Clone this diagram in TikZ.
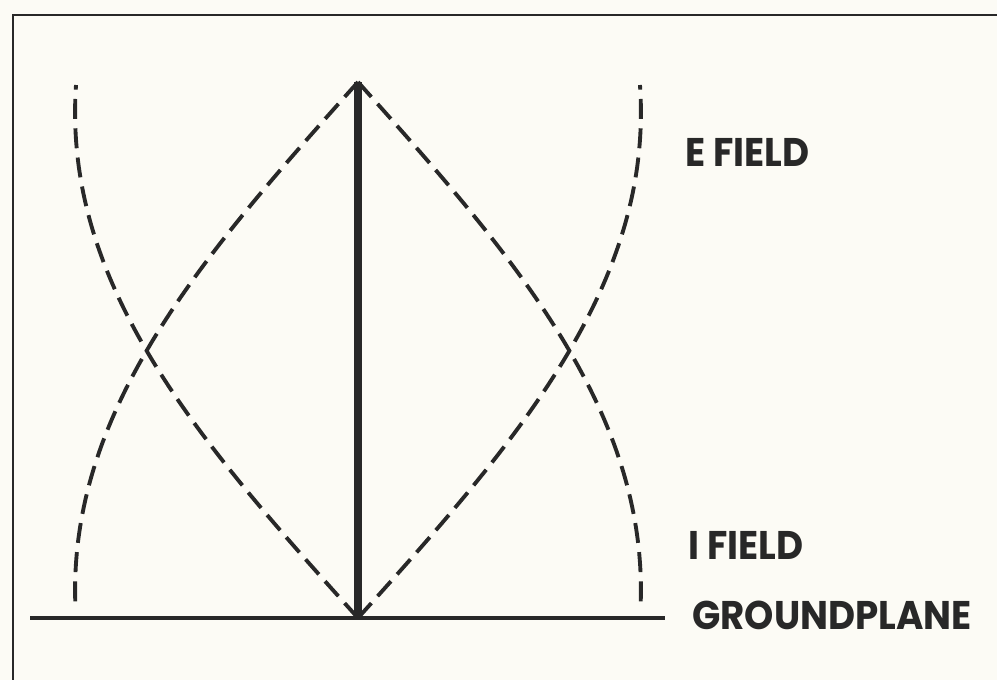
\documentclass[tikz,border=0pt]{standalone}
\usepackage{fontspec}
\newfontfamily\labelfont{Poppins}[FakeStretch=0.93]
\usetikzlibrary{positioning}
\definecolor{paper}{RGB}{252,251,245}
\definecolor{ink}{RGB}{40,40,40}

\begin{document}
\begin{tikzpicture}[x=0.75pt,y=-0.75pt,
  field/.style={ink,line width=2.9pt,dash pattern=on 15pt off 7pt},
  fieldlabel/.style={anchor=base west,inner sep=0pt,text=ink,
    font=\labelfont\bfseries\fontsize{30}{30}\selectfont}]
  \fill[paper] (0,0) rectangle (997,680);
  \useasboundingbox (0,0) rectangle (997,680);

  % frame, open to the right and bottom
  \draw[ink,line width=2.2pt] (997,15) -- (13,15) -- (13,680);

  \coordinate (top) at (358,82);
  \coordinate (base) at (358,618);
  \coordinate (gleft) at (30,618);
  \coordinate (gright) at (665,618);

  % groundplane and radiator
  \draw[ink,line width=3.4pt] (gleft) -- (gright);
  \draw[ink,line width=5.5pt] (base) -- (top);

  % current: zero at the top, largest at the base
  \draw[field,shift={(base)}] plot[domain=0:90,samples=40,smooth]
    ({282*(sin(\x)+0.041*sin(2*\x))},{-\x/90*533});
  \draw[field,shift={(base)}] plot[domain=0:90,samples=40,smooth]
    ({-282*(sin(\x)+0.041*sin(2*\x))},{-\x/90*533});
  % voltage: zero at the base, largest at the top
  \draw[field,shift={(top)}] plot[domain=0:88,samples=40,smooth]
    ({282*(sin(\x)+0.041*sin(2*\x))},{\x/90*536});
  \draw[field,shift={(top)}] plot[domain=0:88,samples=40,smooth]
    ({-282*(sin(\x)+0.041*sin(2*\x))},{\x/90*536});

  \node[fieldlabel] (efield) at (685,167) {E FIELD};
  \node[fieldlabel] (ifield) at (688,560) {I FIELD};
  \node[fieldlabel] (ground) at (692,630) {GROUNDPLANE};
\end{tikzpicture}
\end{document}
